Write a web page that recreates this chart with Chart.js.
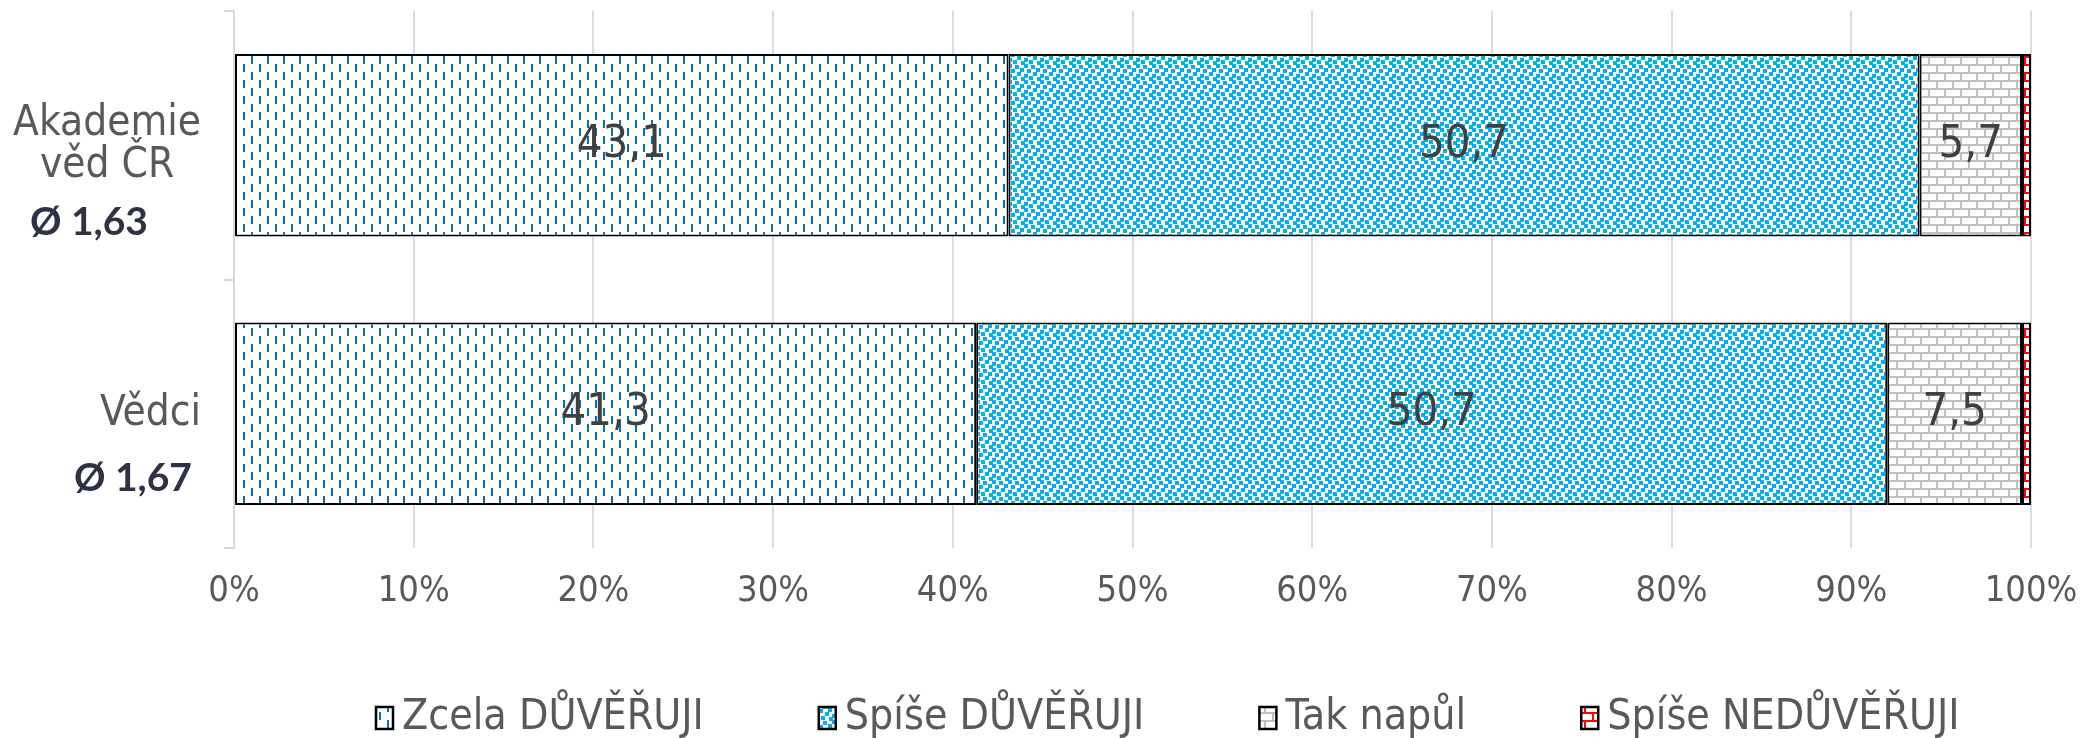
<!DOCTYPE html>
<html>
<head>
<meta charset="utf-8">
<script src="https://cdn.jsdelivr.net/npm/chart.js@4"></script>
<style>
  html, body { margin: 0; padding: 0; background: #fff; }
</style>
</head>
<body>
<canvas id="chart" width="2080" height="738"></canvas>
<script>
// data
const categories = [['Akademie', 'věd ČR'], ['Vědci']];
const averages = ['Ø 1,63', 'Ø 1,67'];
const seriesNames = ['Zcela DŮVĚŘUJI', 'Spíše DŮVĚŘUJI', 'Tak napůl', 'Spíše NEDŮVĚŘUJI'];
const zcelaDuveruji = [43.1, 41.3];
const spiseDuveruji = [50.7, 50.7];
const takNapul = [5.7, 7.5];
const spiseNeduveruji = [0.5, 0.5];

const FONT = '"DejaVu Sans Condensed", "DejaVu Sans", sans-serif';
const canvas = document.getElementById('chart');
const ctx = canvas.getContext('2d');

// pattern fills like the Excel original
function tile(w, h, draw) {
    const c = document.createElement('canvas');
    c.width = w; c.height = h;
    const g = c.getContext('2d');
    g.fillStyle = '#fff';
    g.fillRect(0, 0, w, h);
    draw(g);
    return ctx.createPattern(c, 'repeat');
}

const dashPattern = tile(16, 16, g => {
    g.fillStyle = '#0070c0';
    g.fillRect(3, 0, 2, 8);
    g.fillRect(11, 8, 2, 8);
});

const dotPattern = tile(16, 16, g => {
    g.fillStyle = '#00b0f0';
    const pts = [[0,0],[7,1],[12,4],[3,5],[9,8],[0,10],[5,12],[13,13]];
    pts.forEach(([x, y]) => {
        [0, -16].forEach(dx => [0, -16].forEach(dy => g.fillRect(x + dx, y + dy, 4, 4)));
    });
});

function brick(color) {
    return tile(16, 16, g => {
        g.fillStyle = color;
        g.fillRect(0, 0, 16, 2);
        g.fillRect(0, 8, 16, 2);
        g.fillRect(0, 0, 2, 8);
        g.fillRect(8, 8, 2, 8);
    });
}

const fills = [dashPattern, dotPattern, brick('#c0c0c0'), brick('#ff0000')];
const values = [zcelaDuveruji, spiseDuveruji, takNapul, spiseNeduveruji];

// where the Ø text boxes sit (x centre, offset below the bar centre)
const AVG_X = [89, 133];
const AVG_DY = [77, 65];

const textPlugin = {
    id: 'texts',
    afterDatasetsDraw(chart) {
        const c = chart.ctx;
        c.save();
        c.textBaseline = 'middle';

        // values inside the bars
        c.font = '45px ' + FONT;
        c.fillStyle = '#404040';
        c.textAlign = 'center';
        chart.data.datasets.forEach((ds, di) => {
            if (di === 3) return;
            chart.getDatasetMeta(di).data.forEach((bar, i) => {
                const p = bar.getCenterPoint();
                c.fillText(ds.data[i].toFixed(1).replace('.', ','), p.x, p.y);
            });
        });

        // category labels
        const y = chart.scales.y;
        chart.data.labels.forEach((lines, i) => {
            const cy = y.getPixelForValue(i);
            c.font = '42px ' + FONT;
            c.fillStyle = '#595959';
            const w = Math.max(...lines.map(l => c.measureText(l).width));
            const cx = 201 - w / 2;
            lines.forEach((l, k) => {
                c.fillText(l, cx, cy + (k - (lines.length - 1) / 2) * 42);
            });
            c.font = 'bold 39px Lato, "Open Sans", sans-serif';
            c.fillStyle = '#2f3244';
            c.fillText(averages[i], AVG_X[i], cy + AVG_DY[i]);
        });

        // legend
        let x = 376;
        const ly = 718;
        c.font = '42.5px ' + FONT;
        c.textAlign = 'left';
        chart.data.datasets.forEach(ds => {
            c.fillStyle = ds.backgroundColor;
            c.fillRect(x, ly - 11, 17, 22);
            c.lineWidth = 2.5;
            c.strokeStyle = '#000';
            c.strokeRect(x, ly - 11, 17, 22);
            c.fillStyle = '#595959';
            c.fillText(ds.label, x + 26, ly);
            x += 26 + c.measureText(ds.label).width + 115;
        });
        c.restore();
    }
};

new Chart(ctx, {
    type: 'bar',
    data: {
        labels: categories,
        datasets: seriesNames.map((name, i) => ({
            label: name,
            data: values[i],
            backgroundColor: fills[i],
            borderColor: '#000',
            borderWidth: 2,
            borderSkipped: false,
            barPercentage: 0.68,
            categoryPercentage: 1
        }))
    },
    options: {
        responsive: false,
        animation: false,
        indexAxis: 'y',
        layout: { padding: { left: 0, right: 49, top: 11, bottom: 130 } },
        plugins: {
            legend: { display: false },
            tooltip: { enabled: false }
        },
        scales: {
            x: {
                stacked: true,
                min: 0,
                max: 100,
                ticks: {
                    stepSize: 10,
                    callback: v => v + '%',
                    color: '#595959',
                    font: { family: FONT, size: 36 },
                    padding: 22,
                    maxRotation: 0,
                    autoSkip: false
                },
                grid: { color: '#dcdcdc', lineWidth: 2, drawTicks: false },
                border: { display: false },
                afterFit: s => { s.height = 60; s.paddingLeft = 0; s.paddingRight = 0; }
            },
            y: {
                stacked: true,
                ticks: { display: false },
                grid: { offset: true, drawOnChartArea: false, color: '#d9d9d9', lineWidth: 2, tickLength: 10 },
                border: { color: '#d9d9d9', width: 2 },
                afterFit: s => { s.width = 234; }
            }
        }
    },
    plugins: [textPlugin]
});
</script>
</body>
</html>
